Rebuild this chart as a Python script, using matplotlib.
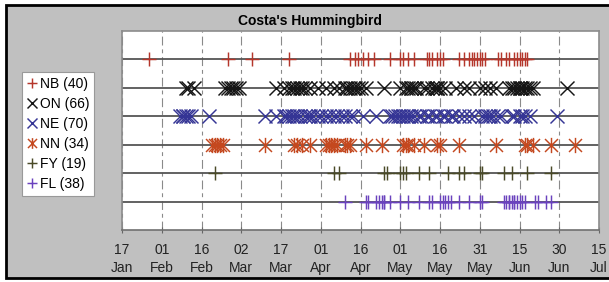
import matplotlib
matplotlib.use("Agg")
import matplotlib.pyplot as plt
from matplotlib.path import Path
from matplotlib.patches import Rectangle
from matplotlib.lines import Line2D

plt.rcParams['font.family'] = ['Liberation Sans', 'DejaVu Sans']

# Observation dates as day-of-year (leap year: Jan 1 = 1)
series_names = ["NB", "ON", "NE", "NN", "FY", "FL"]

nb_days = [27, 57, 66, 80, 103, 105, 106, 108, 110, 112, 118, 122, 123, 125, 127,
           132, 133, 134, 136, 137, 138, 144, 146, 148, 149, 150, 151, 152, 153, 154,
           159, 160, 162, 163, 165, 166, 167, 168, 169, 170]
on_days = [41, 42, 44, 56, 57, 58, 59, 60, 61, 75, 78, 80, 81, 82, 83, 84, 85, 86, 88,
           91, 94, 97, 99, 101, 102, 103, 104, 105, 106, 107, 109, 116, 122, 124, 125,
           126, 126, 127, 128, 131, 132, 134, 135, 136, 136, 137, 139, 143, 146, 148,
           152, 154, 156, 158, 163, 164, 165, 166, 167, 167, 168, 169, 170, 171, 172, 185]
ne_days = [39, 40, 40, 41, 42, 43, 50, 71, 75, 78, 79, 80, 81, 82, 83, 84, 86, 87, 88,
           89, 91, 92, 94, 95, 97, 98, 100, 101, 103, 104, 108, 113, 118, 119, 120, 121,
           122, 123, 124, 125, 126, 127, 129, 130, 132, 133, 135, 136, 138, 139, 141,
           142, 144, 146, 148, 150, 153, 154, 155, 156, 157, 159, 160, 164, 165, 167,
           168, 169, 171, 181]
nn_days = [51, 52, 53, 54, 55, 71, 82, 83, 85, 88, 94, 95, 96, 97, 98, 101, 102, 103,
           109, 115, 123, 124, 125, 127, 131, 136, 137, 144, 158, 169, 170, 172, 179, 188]
fy_days = [52, 97, 99, 116, 117, 122, 123, 124, 129, 133, 140, 144, 146, 152, 153,
           161, 164, 170, 179]
fl_days = [101, 109, 110, 113, 114, 115, 116, 116, 118, 122, 125, 129, 133, 134, 137,
           138, 139, 140, 141, 144, 148, 152, 153, 161, 162, 163, 163, 164, 165, 165,
           166, 167, 168, 169, 173, 174, 177, 179]

tick_days = [17, 32, 47, 62, 77, 92, 107, 122, 137, 152, 167, 182, 197]
tick_labels = ["17\nJan", "01\nFeb", "16\nFeb", "02\nMar", "17\nMar", "01\nApr",
               "16\nApr", "01\nMay", "16\nMay", "31\nMay", "15\nJun", "30\nJun",
               "15\nJul"]

title = "Costa's Hummingbird"

# asterisk marker: x plus vertical bar
star = Path([(0, -1), (0, 1), (-0.85, -0.85), (0.85, 0.85), (-0.85, 0.85), (0.85, -0.85)],
            [Path.MOVETO, Path.LINETO, Path.MOVETO, Path.LINETO, Path.MOVETO, Path.LINETO])

all_days = [nb_days, on_days, ne_days, nn_days, fy_days, fl_days]
colors = ['#B5362B', '#151515', '#353595', '#C4481F', '#4A4A28', '#6A42BE']
markers = ['+', 'x', 'x', star, '+', '+']
sizes = [10, 10.5, 10.5, 11, 10, 10]

fig = plt.figure(figsize=(6.09, 2.82), dpi=100, facecolor='white')
# grey panel with black frame on top, left and bottom
x0, y0, y1 = 6 / 609, 4 / 282, 277 / 282
fig.add_artist(Rectangle((x0, y0), 1.0 - x0, y1 - y0, transform=fig.transFigure,
                         facecolor='#C0C0C0', edgecolor='none', zorder=-5))
fig.add_artist(Line2D([1.0, x0, x0, 1.0], [y1, y1, y0, y0], transform=fig.transFigure,
                      color='black', lw=2.0, solid_joinstyle='miter', zorder=-4))

ax = fig.add_axes([122 / 609, 52 / 282, 477 / 609, 199 / 282])
ax.set_facecolor('white')

handles = []
for i, (name, days, c, m, s) in enumerate(zip(series_names, all_days, colors, markers, sizes)):
    row = i + 1
    ax.axhline(row, color='#555555', lw=1.3, zorder=2)
    h, = ax.plot(days, [row] * len(days), linestyle='none', marker=m, ms=s, mew=1.05,
                 color=c, zorder=3, label=f"{name} ({len(days)})")
    handles.append(h)

ax.set_xlim(17, 197)
ax.set_ylim(7, 0)
ax.set_yticks([])
ax.set_xticks(tick_days)
ax.set_xticklabels(tick_labels, linespacing=1.35)
ax.tick_params(axis='x', labelsize=10, color='#666666', labelcolor='#222222',
               length=5, direction='inout', pad=7)
ax.grid(axis='x', color='#8a8a8a', lw=0.8, linestyle=(0, (8, 3.5, 3.5, 3.5)), zorder=1)
ax.set_axisbelow(True)
for sp in ax.spines.values():
    sp.set_color('#8c8c8c')
    sp.set_linewidth(1.2)
ax.spines['bottom'].set_color('#707070')

fig.text(310 / 609, 1 - 21 / 282, title, ha='center', va='center', fontsize=10,
         fontweight='bold')

leg = fig.legend(handles, [h.get_label() for h in handles], loc='upper left',
                 bbox_to_anchor=(22 / 609, 1 - 72 / 282), bbox_transform=fig.transFigure,
                 frameon=True, fancybox=False, edgecolor='#999999', framealpha=1,
                 fontsize=10, handlelength=0.7, handletextpad=0.25, labelspacing=0.43,
                 borderpad=0.35, borderaxespad=0, markerscale=0.7)
leg.get_frame().set_linewidth(0.8)

fig.savefig('out.png', dpi=100)
